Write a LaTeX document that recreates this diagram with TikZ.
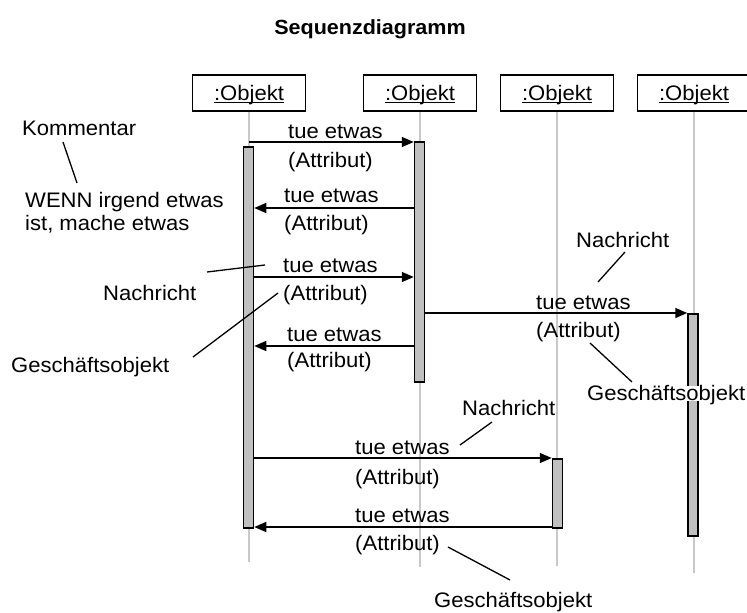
\documentclass[tikz,border=0pt]{standalone}
\usepackage{fontspec}
\setmainfont{Liberation Sans}[FakeStretch=1.05]
\usetikzlibrary{arrows.meta}
\definecolor{bargray}{HTML}{C0C0C0}
\definecolor{lifegray}{HTML}{C8C8C8}
% underline that sits just below the baseline
\newcommand\ulobj[1]{\setbox0\hbox{#1}\rlap{\rule[-2.4pt]{\wd0}{1.2pt}}\box0}
\begin{document}
\begin{tikzpicture}[x=1pt,y=-1pt,
  every node/.style={font=\fontsize{21}{24}\selectfont, inner sep=0pt,
    text height=15pt, text depth=0pt},
  obj/.style={draw, line width=1.5pt, minimum width=113pt, minimum height=36pt, fill=white},
  life/.style={draw=lifegray, line width=1.3pt},
  bar/.style={draw, line width=1.5pt, fill=bargray, minimum width=10pt, anchor=north},
  msg/.style={line width=1.6pt, -{Triangle[length=12pt,width=10pt]}},
  lbl/.style={anchor=west},
  lead/.style={line width=1.3pt}]
\useasboundingbox (0,0) rectangle (747,613);
\clip (0,0) rectangle (747,613);

% title
\node[font=\fontsize{20.5}{23}\selectfont\bfseries] (title) at (370,27) {Sequenzdiagramm};

% objects
\node[obj] (o1) at (249,93) {\ulobj{:Objekt}};
\node[obj] (o2) at (420,93) {\ulobj{:Objekt}};
\node[obj] (o3) at (557,93) {\ulobj{:Objekt}};
\node[obj] (o4) at (694,93) {\ulobj{:Objekt}};

% lifelines
\coordinate (e1) at (249,562);
\coordinate (e2) at (420,567);
\coordinate (e3) at (557,566);
\coordinate (e4) at (694,573);
\draw[life] (o1.south) -- (e1);
\draw[life] (o2.south) -- (e2);
\draw[life] (o3.south) -- (e3);
\draw[life] (o4.south) -- (e4);

% activation bars
\node[bar, minimum height=381pt] (b1) at (248.5,146) {};
\node[bar, minimum height=240pt] (b2) at (419.5,141) {};
\node[bar, minimum height=69pt]  (b3) at (557.5,458) {};
\node[bar, minimum height=222pt] (b4) at (693,313) {};

% message levels
\coordinate (y1) at (0,142);
\coordinate (y2) at (0,208);
\coordinate (y3) at (0,277);
\coordinate (y4) at (0,346);
\coordinate (y5) at (0,313);
\coordinate (y6) at (0,458);
\coordinate (y7) at (0,527);

% messages
\draw[msg] (o1.south |- y1) -- (b2.west |- y1);
\draw[msg] (b2.west |- y2) -- (b1.east |- y2);
\draw[msg] (b1.east |- y3) -- (b2.west |- y3);
\draw[msg] (b2.west |- y4) -- (b1.east |- y4);
\draw[msg] (b2.east |- y5) -- (b4.west |- y5);
\draw[msg] (b1.east |- y6) -- (b3.west |- y6);
\draw[msg] (b3.west |- y7) -- (b1.east |- y7);

% message labels
\node[lbl] (m1a) at (288,131) {tue etwas};
\node[lbl] (m1b) at (288,160) {(Attribut)};
\node[lbl] (m2a) at (284,195) {tue etwas};
\node[lbl] (m2b) at (284,223) {(Attribut)};
\node[lbl] (m3a) at (283,265) {tue etwas};
\node[lbl] (m3b) at (283,293) {(Attribut)};
\node[lbl] (m4a) at (287,334) {tue etwas};
\node[lbl] (m4b) at (287,360) {(Attribut)};
\node[lbl] (m5a) at (536,302) {tue etwas};
\node[lbl] (m5b) at (536,330) {(Attribut)};
\node[lbl] (m6a) at (355,447) {tue etwas};
\node[lbl] (m6b) at (355,477) {(Attribut)};
\node[lbl] (m7a) at (355,515) {tue etwas};
\node[lbl] (m7b) at (355,543) {(Attribut)};

% annotations
\node[lbl] (kom) at (22,128) {Kommentar};
\node[lbl] (wenn1) at (25,200) {WENN irgend etwas};
\node[lbl] (wenn2) at (25,223) {ist, mache etwas};
\node[lbl] (nachL) at (103,293) {Nachricht};
\node[lbl] (gesL) at (11,365) {Geschäftsobjekt};
\node[lbl] (nachR) at (576,240) {Nachricht};
\node[lbl, fill=white] (gesR) at (587,393) {Geschäftsobjekt};
\node[lbl] (nachU) at (462,408) {Nachricht};
\node[lbl] (gesU) at (434,600) {Geschäftsobjekt};

% leader lines
\coordinate (k1) at (63,142);   \coordinate (k2) at (77,183);
\coordinate (n1) at (207,272);  \coordinate (n2) at (265,265);
\coordinate (g1) at (193,357);  \coordinate (g2) at (278,293);
\coordinate (r1) at (625,252);  \coordinate (r2) at (598,282);
\coordinate (s1) at (590,343);  \coordinate (s2) at (632,382);
\coordinate (u1) at (492,422);  \coordinate (u2) at (460,445);
\coordinate (t1) at (448,547);  \coordinate (t2) at (510,580);
\draw[lead] (k1) -- (k2);
\draw[lead] (n1) -- (n2);
\draw[lead] (g1) -- (g2);
\draw[lead] (r1) -- (r2);
\draw[lead] (s1) -- (s2);
\draw[lead] (u1) -- (u2);
\draw[lead] (t1) -- (t2);
\end{tikzpicture}
\end{document}
